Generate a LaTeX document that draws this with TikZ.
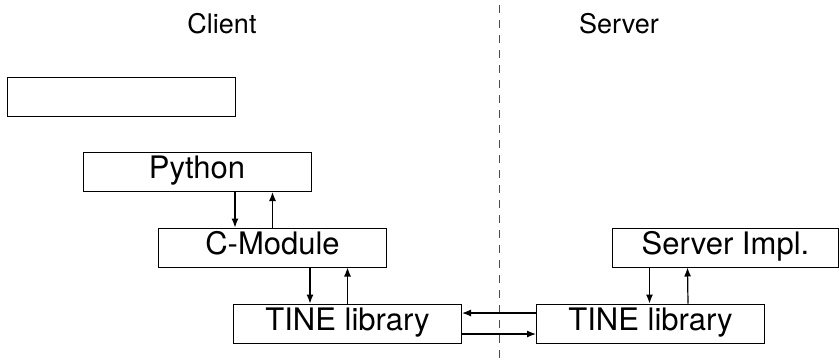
\documentclass[tikz,border=0pt]{standalone}
\usepackage{fontspec}
\setmainfont{TeX Gyre Heros}
\usetikzlibrary{arrows.meta}
\begin{document}
\begin{tikzpicture}[x=1pt,y=-1pt,
  box/.style={draw=black,line width=1pt,minimum width=228pt,minimum height=39pt,inner sep=0pt,
    font=\fontsize{31}{36}\selectfont,text height=22pt,text depth=9pt},
  title/.style={anchor=base,inner sep=0pt,font=\fontsize{27}{32}\selectfont},
  arr/.style={line width=1.2pt,-{Latex[length=9pt,width=7pt]}},
  divider/.style={line width=1pt,draw=black!70,dash pattern=on 8pt off 7pt}]
\useasboundingbox (0,0) rectangle (839,360);
\fill[white] (0,0) rectangle (839,360);
% divider
\coordinate (dtop) at (499,5);
\coordinate (dbot) at (499,360);
\draw[divider] (dtop) -- (dbot);
% titles
\node[title] (client) at (222,33) {Client};
\node[title] (server) at (619,33) {Server};
% boxes
\node[box] (empty) at (121,96.5) {};
\node[box] (py) at (197,172) {Python};
\node[box] (cm) at (272.5,247.5) {C-Module};
\node[box] (tl) at (347.5,323.5) {TINE library};
\node[box] (tr) at (650.5,323.5) {TINE library};
\node[box,minimum width=226pt] (srv) at (725.5,247.5) {Server Impl.};
% connectors
\draw[arr] ([xshift=38pt]py.south) -- ([xshift=-37.5pt]cm.north);
\draw[arr] (cm.north) -- ([xshift=75.5pt]py.south);
\draw[arr] ([xshift=37.5pt]cm.south) -- ([xshift=-37.5pt]tl.north);
\draw[arr] (tl.north) -- ([xshift=75pt]cm.south);
\draw[arr] ([xshift=-76pt]srv.south) -- ([xshift=-1pt]tr.north);
\draw[arr] ([xshift=37.5pt]tr.north) -- ([xshift=-38pt]srv.south);
\draw[arr] ([yshift=10.5pt]tr.west) -- ([yshift=10.5pt]tl.east);
\draw[arr] ([yshift=-10.5pt]tl.east) -- ([yshift=-10.5pt]tr.west);
\end{tikzpicture}
\end{document}
